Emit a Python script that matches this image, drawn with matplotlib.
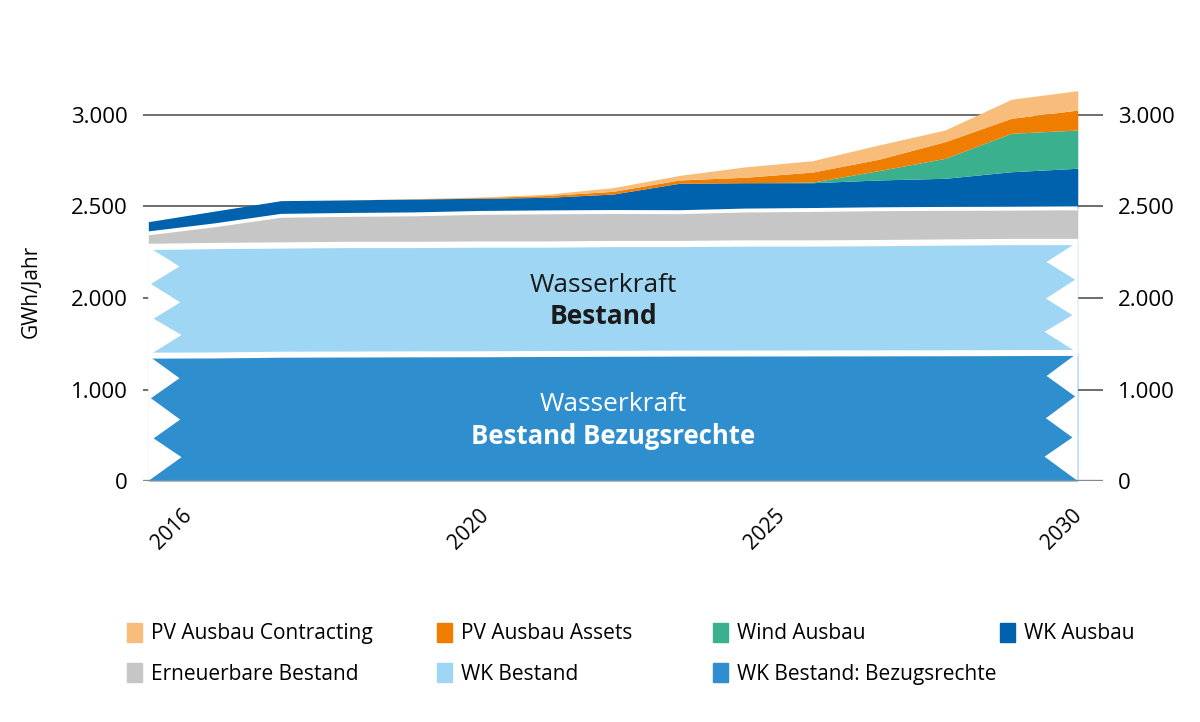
import matplotlib.pyplot as plt
import numpy as np

plt.rcParams['font.family'] = ['Open Sans', 'DejaVu Sans']

years = np.arange(2016, 2031)
bezugsrechte = [1370, 1372, 1380, 1382, 1384, 1385, 1388, 1390, 1392, 1393, 1394, 1395, 1396, 1398, 1400]
wk_bestand = [909, 912, 907, 908, 906, 907, 904, 905, 903, 905, 904, 905, 907, 908, 906]
erneuerbare = [74, 113, 162, 164, 167, 173, 176, 175, 174, 180, 183, 185, 184, 182, 184]
wk_ausbau = [64, 78, 83, 82, 84, 80, 82, 98, 158, 152, 149, 160, 167, 202, 219]
wind = [0, 0, 0, 0, 0, 0, 0, 0, 0, 0, 3, 51, 109, 210, 209]
pv_assets = [0, 0, 0, 0, 1, 4, 10, 15, 18, 30, 55, 62, 91, 82, 109]
pv_contracting = [0, 0, 0, 0, 1, 3, 7, 20, 25, 57, 62, 78, 64, 104, 106]

series_names = ["WK Bestand: Bezugsrechte", "WK Bestand", "Erneuerbare Bestand",
                "WK Ausbau", "Wind Ausbau", "PV Ausbau Assets", "PV Ausbau Contracting"]
series_colors = ["#2F8ECE", "#9FD6F4", "#C6C6C6", "#0062AD", "#3AB08F", "#EF7D00", "#F9BD7B"]

ytick_values = [0, 1000, 2000, 2500, 3000]
ytick_labels = ["0", "1.000", "2.000", "2.500", "3.000"]
xtick_labels = ["2016", "2020", "2025", "2030"]

legend_columns = [["PV Ausbau Contracting", "Erneuerbare Bestand"],
                  ["PV Ausbau Assets", "WK Bestand"],
                  ["Wind Ausbau", "WK Bestand: Bezugsrechte"],
                  ["WK Ausbau"]]


# broken axis: above 2000 the scale is stretched by factor 2
def forward(y):
    y = np.asarray(y, dtype=float)
    return np.where(y <= 2000, y, 2 * y - 2000)


def inverse(v):
    v = np.asarray(v, dtype=float)
    return np.where(v <= 2000, v, (v + 2000) / 2)


def zigzag(ax, x0, bottom, top, side):
    # white teeth cut into the band edge
    fracs = [0, 0.18, 0.34, 0.51, 0.66, 0.81, 1.0]
    depth = [0, 0.47, 0.04, 0.48, 0.08, 0.5, 0]
    vt, vb = forward(top), forward(bottom)
    pts = [(x0 + side * d, float(inverse(vt + f * (vb - vt)))) for f, d in zip(fracs, depth)]
    ax.add_patch(plt.Polygon(pts, closed=True, facecolor="white", edgecolor="none", zorder=3))


def main():
    fig = plt.figure(figsize=(12, 7.22), dpi=100)
    ax = fig.add_axes([143 / 1200, 241 / 722, 960 / 1200, 402.6 / 722])
    ax.set_yscale("function", functions=(forward, inverse))

    layers = [bezugsrechte, wk_bestand, erneuerbare, wk_ausbau, wind, pv_assets, pv_contracting]
    bottom = np.zeros(len(years))
    tops = []
    for values, color in zip(layers, series_colors):
        top = bottom + np.array(values)
        ax.fill_between(years, bottom, top, color=color, linewidth=0, zorder=2)
        tops.append(top)
        bottom = top

    # white gaps between the lower blocks
    for top, lw in zip(tops[:3], [4.3, 4.5, 2.8]):
        ax.plot(years, top, color="white", lw=lw, solid_capstyle="butt", zorder=2.5)

    # zigzag edges for Wasserkraft blocks
    for lo, hi in [(np.zeros(len(years)), tops[0]), (tops[0], tops[1])]:
        zigzag(ax, years[0], lo[0], hi[0], 1)
        zigzag(ax, years[-1], lo[-1], hi[-1], -1)

    ax.set_xlim(2015.92, 2030.38)
    ax.set_ylim(0, 3200)
    ax.set_yticks(ytick_values, ytick_labels)
    ax.set_xticks(np.linspace(2016.36, 2029.76, len(xtick_labels)), xtick_labels,
                  rotation=45, ha="center")
    ax.tick_params(axis="y", length=0, pad=11, labelsize=16, labelright=True)
    ax.tick_params(axis="x", length=0, pad=17, labelsize=15)
    ax.set_axisbelow(True)
    ax.grid(axis="y", color="#6E6E6E", lw=1.4)
    ax.grid(axis="x", visible=False)
    ax.axhline(0, color="#7F8A95", lw=2.4, zorder=4)
    for s in ax.spines.values():
        s.set_visible(False)

    ax.set_ylabel("GWh/Jahr", fontsize=15)
    ax.yaxis.set_label_coords(-0.105, 0.47)

    ax.text(2022.85, 2071, "Wasserkraft", fontsize=19, color="#1A1A1A", ha="center", va="center", zorder=5)
    ax.text(2022.85, 1803, "Bestand", fontsize=19, fontweight="bold", color="#1A1A1A",
            ha="center", va="center", zorder=5)
    ax.text(2023.0, 831, "Wasserkraft", fontsize=19, color="white", ha="center", va="center", zorder=5)
    ax.text(2023.0, 481, "Bestand Bezugsrechte", fontsize=18.5, fontweight="bold", color="white",
            ha="center", va="center", zorder=5)

    color_of = dict(zip(series_names, series_colors))
    col_x = [127, 437, 713, 1000]
    for x, names in zip(col_x, legend_columns):
        handles = [plt.Rectangle((0, 0), 1, 1, color=color_of[n]) for n in names]
        fig.legend(handles, names, loc="upper left", bbox_to_anchor=(x / 1200, 1 - 623 / 722),
                   frameon=False, fontsize=15, handlelength=0.7, handleheight=1.0,
                   handletextpad=0.45, labelspacing=0.9, borderpad=0, borderaxespad=0)

    fig.savefig("out.png", dpi=100)


if __name__ == "__main__":
    main()
